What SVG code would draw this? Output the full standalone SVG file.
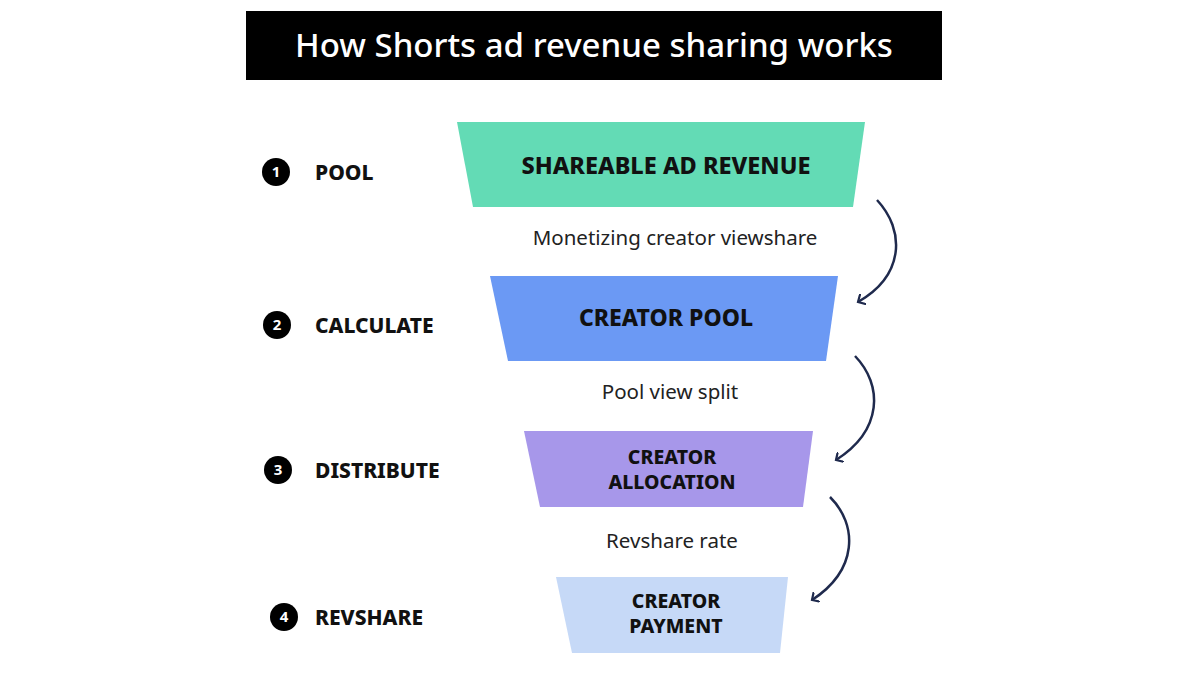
<svg xmlns="http://www.w3.org/2000/svg" width="1200" height="675" viewBox="0 0 1200 675">
<style>
.t{font-family:"Noto Sans","Open Sans",sans-serif;font-weight:800;fill:#111;text-anchor:middle}
.s{font-family:"Noto Sans","Open Sans",sans-serif;font-weight:800;fill:#111;font-size:21px}
.l{font-family:"Noto Sans","Open Sans",sans-serif;fill:#222;font-size:20.5px;text-anchor:middle}
.n{font-family:"Noto Sans",sans-serif;font-weight:700;fill:#fff;font-size:15px;text-anchor:middle}
.c{fill:none;stroke:#1f2a4d;stroke-width:2.5}
</style>
<defs><marker id="a" viewBox="0 0 12 12" refX="6" refY="6" markerWidth="12" markerHeight="12" markerUnits="userSpaceOnUse" orient="auto"><path d="M0,0 L6,6 L0,12" fill="none" stroke="#1f2a4d" stroke-width="2.2"/></marker></defs>
<rect width="1200" height="675" fill="#fff"/>
<g id="title"><rect x="246" y="11" width="696" height="69" fill="#000"/><text x="594" y="57" font-family="Noto Sans,sans-serif" font-size="33" font-weight="500" fill="#fff" text-anchor="middle">How Shorts ad revenue sharing works</text></g>
<g id="step1"><circle cx="276" cy="172" r="14" fill="#000"/><text class="n" x="276" y="177">1</text><text class="s" x="315" y="180">POOL</text></g>
<g id="step2"><circle cx="277" cy="325" r="14" fill="#000"/><text class="n" x="277" y="330">2</text><text class="s" x="315" y="333">CALCULATE</text></g>
<g id="step3"><circle cx="278" cy="470" r="14" fill="#000"/><text class="n" x="278" y="475">3</text><text class="s" x="315" y="478">DISTRIBUTE</text></g>
<g id="step4"><circle cx="284" cy="617" r="14" fill="#000"/><text class="n" x="284" y="622">4</text><text class="s" x="315" y="625">REVSHARE</text></g>
<g id="node1"><polygon points="457,122 865,122 853,207 473,207" fill="#63dbb5"/><text class="t" x="666" y="174" font-size="23.5">SHAREABLE AD REVENUE</text></g>
<g id="node2"><polygon points="490,276 838,276 826,361 508,361" fill="#6b99f4"/><text class="t" x="666" y="326" font-size="23">CREATOR POOL</text></g>
<g id="node3"><polygon points="524,431 813,431 803,507 540,507" fill="#a797ea"/><text class="t" x="672" y="464" font-size="19.5">CREATOR</text><text class="t" x="672" y="489" font-size="19.5">ALLOCATION</text></g>
<g id="node4"><polygon points="556,577 788,577 780,653 572,653" fill="#c6d9f7"/><text class="t" x="676" y="608" font-size="19.5">CREATOR</text><text class="t" x="676" y="633" font-size="19.5">PAYMENT</text></g>
<g id="labels"><text class="l" x="675" y="245">Monetizing creator viewshare</text><text class="l" x="670" y="399">Pool view split</text><text class="l" x="672" y="548">Revshare rate</text></g>
<g id="connectors">
<path class="c" d="M877,200 C905,230 905,275 858,302" marker-end="url(#a)"/>
<path class="c" d="M855,356 C883,385 883,430 836,460" marker-end="url(#a)"/>
<path class="c" d="M830,497 C858,525 858,570 812,600" marker-end="url(#a)"/>
</g>
</svg>
